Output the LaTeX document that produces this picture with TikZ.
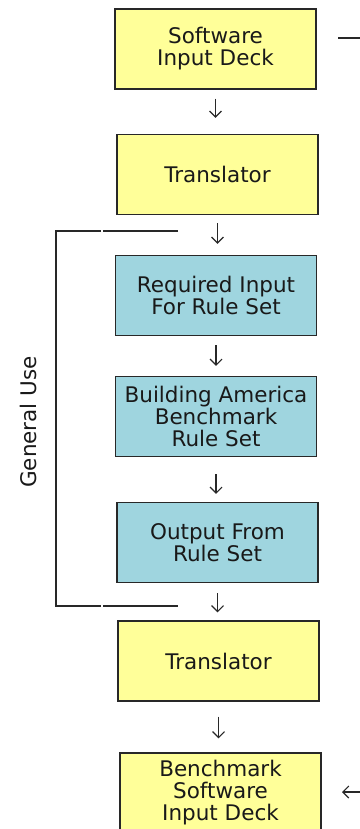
\documentclass[tikz,border=0pt]{standalone}
\usepackage{fontspec}
\setmainfont{DejaVu Sans}
\usepackage{tikz}
\usetikzlibrary{arrows.meta}
\definecolor{deckyellow}{RGB}{255,255,153}
\definecolor{ruleblue}{RGB}{159,213,223}
\definecolor{inkgray}{RGB}{40,40,40}

\begin{document}
\begin{tikzpicture}[x=1pt, y=-1pt,
  box/.style={rectangle, draw=inkgray, line width=1.4pt, fill=deckyellow,
    minimum width=201pt, minimum height=80pt, inner sep=0pt, align=center,
    text=black!90, font=\fontsize{21.5}{22}\selectfont},
  rulebox/.style={box, fill=ruleblue},
  flow/.style={-{Straight Barb[length=6pt,width=12pt]}, line width=1.1pt, draw=inkgray},
  bracket/.style={line width=1.3pt, draw=inkgray}
]
\useasboundingbox (0,0) rectangle (359,829);

\node[box] (deck) at (215.5,49) {Software\\Input Deck};
\node[box] (trans1) at (217.5,174.5) {Translator};
\node[rulebox] (req) at (216,295.5) {Required Input\\For Rule Set};
\node[rulebox] (bench) at (216,416.5) {Building America\\Benchmark\\Rule Set};
\node[rulebox] (out) at (217.5,542.5) {Output From\\Rule Set};
\node[box] (trans2) at (218.5,661) {Translator};
\node[box] (bdeck) at (220.5,793) {Benchmark\\Software\\Input Deck};

\node[rotate=90, text=black!90, font=\fontsize{21.5}{22}\selectfont] (use) at (28,422) {General Use};

\draw[flow, shorten <=9pt, shorten >=16pt] (deck.south) -- (deck.south |- trans1.north);
\draw[flow, shorten <=8pt, shorten >=11pt] (trans1.south) -- (trans1.south |- req.north);
\draw[flow, shorten <=9pt, shorten >=10pt] (req.south) -- (req.south |- bench.north);
\draw[flow, shorten <=17pt, shorten >=8pt] (bench.south) -- (bench.south |- out.north);
\draw[flow, shorten <=10pt, shorten >=8pt] (out.south) -- (out.south |- trans2.north);
\draw[flow, shorten <=15pt, shorten >=14pt] (trans2.south) -- (trans2.south |- bdeck.north);

% general use bracket
\coordinate (gtop) at (178,231);
\coordinate (gbot) at (178,606);
\draw[bracket] (gtop) -- ++(-75,0) ++(-2,0) -- ++(-45,0) -- ++(0,375) -- ++(45,0) ++(2,0) -- (gbot);

% lines leaving the picture
\coordinate (outa) at (338,38);
\coordinate (outb) at (360,38);
\coordinate (ina) at (342,792);
\coordinate (inb) at (360,792);
\draw[bracket] (outa) -- (outb);
\draw[flow] (inb) -- (ina);

\end{tikzpicture}
\end{document}
